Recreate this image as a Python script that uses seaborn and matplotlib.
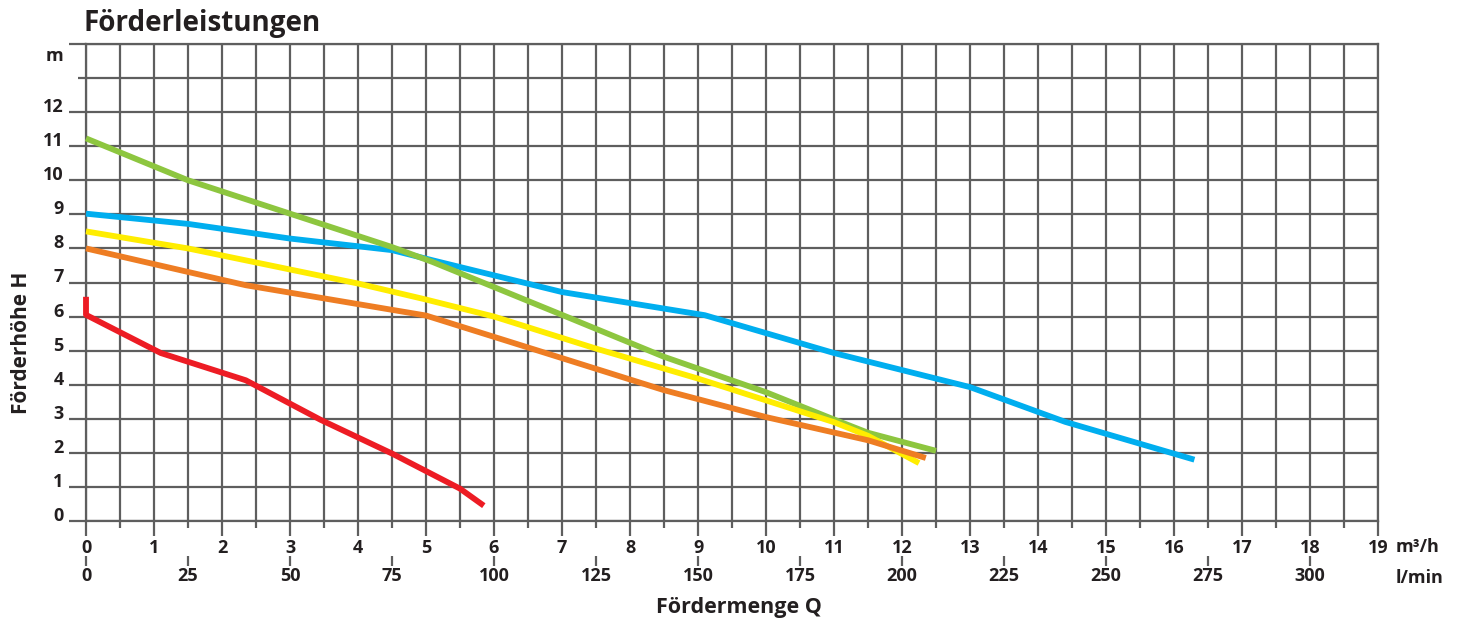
import matplotlib
matplotlib.use("Agg")
import matplotlib.pyplot as plt
import seaborn as sns
import numpy as np
import pandas as pd

# ---- data (Q in m³/h, H in m) ----
blue_q = [0, 1.5, 3.0, 4.5, 5.1, 7.0, 9.1, 11.0, 13.0, 14.4, 16.3]
blue_h = [9.02, 8.72, 8.29, 7.95, 7.65, 6.72, 6.04, 4.93, 3.93, 2.91, 1.8]
green_q = [0, 1.5, 3.0, 4.5, 5.1, 7.0, 8.5, 10.0, 11.0, 11.5, 12.5]
green_h = [11.23, 10.0, 9.02, 8.04, 7.6, 6.05, 4.82, 3.78, 2.98, 2.59, 2.06]
yellow_q = [0, 1.5, 4.0, 5.0, 6.0, 7.5, 9.0, 11.0, 11.5, 12.25]
yellow_h = [8.5, 8.0, 6.97, 6.5, 6.0, 5.06, 4.18, 2.9, 2.5, 1.7]
orange_q = [0, 1.5, 2.35, 5.0, 7.0, 8.5, 10.0, 11.5, 12.35]
orange_h = [8.0, 7.31, 6.92, 6.03, 4.78, 3.84, 3.05, 2.37, 1.85]
red_q = [0, 0, 1.1, 2.35, 3.45, 4.5, 5.5, 5.85]
red_h = [6.58, 6.05, 4.93, 4.13, 2.97, 1.98, 0.95, 0.45]

series_names = ["blau", "grün", "gelb", "orange", "rot"]
series_colors = ["#00AEEF", "#8DC63F", "#FFED00", "#EE7D23", "#ED1C24"]

x_ticks = list(range(0, 20))
lmin_ticks = list(range(0, 301, 25))
y_ticks = list(range(0, 13))

title = "Förderleistungen"
xlabel = "Fördermenge Q"
ylabel = "Förderhöhe H"

# ---- build long table ----
rows = []
for name, qs, hs in zip(series_names,
                        [blue_q, green_q, yellow_q, orange_q, red_q],
                        [blue_h, green_h, yellow_h, orange_h, red_h]):
    for i, (q, h) in enumerate(zip(qs, hs)):
        rows.append({"Pumpe": name, "Q": q, "H": h, "i": i})
df = pd.DataFrame(rows)

sns.set_theme(style="white")
FONT = ["Open Sans", "DejaVu Sans"]
plt.rcParams["font.family"] = FONT
TXT = "#231f20"
GRID = "#5e5e5e"

fig = plt.figure(figsize=(14.6, 6.24), dpi=100)
W, H = 1460, 624
ax = fig.add_axes([86 / W, 1 - 521 / H, (1378 - 86) / W, (521 - 44) / H])

sns.lineplot(data=df, x="Q", y="H", hue="Pumpe", hue_order=series_names,
             palette=dict(zip(series_names, series_colors)), sort=False,
             estimator=None, units="Pumpe", linewidth=4.2, legend=False, ax=ax,
             zorder=5)
for ln in ax.get_lines():
    ln.set_solid_capstyle("butt")
    ln.set_solid_joinstyle("round")
    ln.set_clip_on(False)

ax.set_xlim(0, 19)
ax.set_ylim(0, 14)

ax.set_xticks(x_ticks)
ax.set_xticks(np.arange(0.5, 19, 1.0), minor=True)
ax.set_xticklabels([str(v) for v in x_ticks], fontweight="bold", fontsize=13, color=TXT)

ax.set_yticks(y_ticks + [14])
ax.set_yticks([13], minor=True)
ax.set_yticklabels([str(v) for v in y_ticks] + [""], fontweight="bold", fontsize=13, color=TXT)
for lbl in ax.get_yticklabels():
    lbl.set_verticalalignment("baseline")

ax.grid(True, which="both", axis="x", color=GRID, linewidth=1.6)
ax.grid(True, which="both", axis="y", color=GRID, linewidth=1.6)
ax.set_axisbelow(True)

ax.tick_params(axis="x", which="major", direction="out", length=11, width=1.6,
               color=GRID, pad=2, bottom=True)
ax.tick_params(axis="x", which="minor", direction="out", length=5, width=1.6,
               color=GRID, bottom=True)
ax.tick_params(axis="y", which="major", direction="out", length=12, width=1.6,
               color=GRID, pad=4, left=True)
ax.tick_params(axis="y", which="minor", direction="out", length=6, width=1.6,
               color=GRID, left=True)

for s in ax.spines.values():
    s.set_visible(True)
    s.set_color(GRID)
    s.set_linewidth(1.6)

ax.set_xlabel("")
ax.set_ylabel("")

# second scale: l/min
sec = ax.secondary_xaxis(-0.073, functions=(lambda q: q * 1000 / 60, lambda l: l * 60 / 1000))
sec.set_xticks(lmin_ticks)
sec.set_xticklabels([str(v) for v in lmin_ticks], fontweight="bold", fontsize=13, color=TXT)
sec.spines["bottom"].set_visible(False)
sec.tick_params(axis="x", direction="out", length=7, width=1.6, color=GRID, pad=1)

# texts
fig.text(84 / W, 1 - 31 / H, title, fontsize=20, fontweight="bold", color=TXT,
         ha="left", va="baseline")
fig.text(739 / W, 1 - 607 / H, xlabel, fontsize=15.5, fontweight="bold", color=TXT,
         ha="center", va="center")
fig.text(22 / W, 1 - 343 / H, ylabel, fontsize=15, fontweight="bold", color=TXT,
         ha="center", va="center", rotation=90)
fig.text(63 / W, 1 - 61 / H, "m", fontsize=13, fontweight="bold", color=TXT,
         ha="right", va="baseline")
fig.text(1396 / W, 1 - 552 / H, "m³/h", fontsize=13, fontweight="bold", color=TXT,
         ha="left", va="baseline")
fig.text(1396 / W, 1 - 583 / H, "l/min", fontsize=13, fontweight="bold", color=TXT,
         ha="left", va="baseline")

fig.savefig("out.png", dpi=100, facecolor="white")
